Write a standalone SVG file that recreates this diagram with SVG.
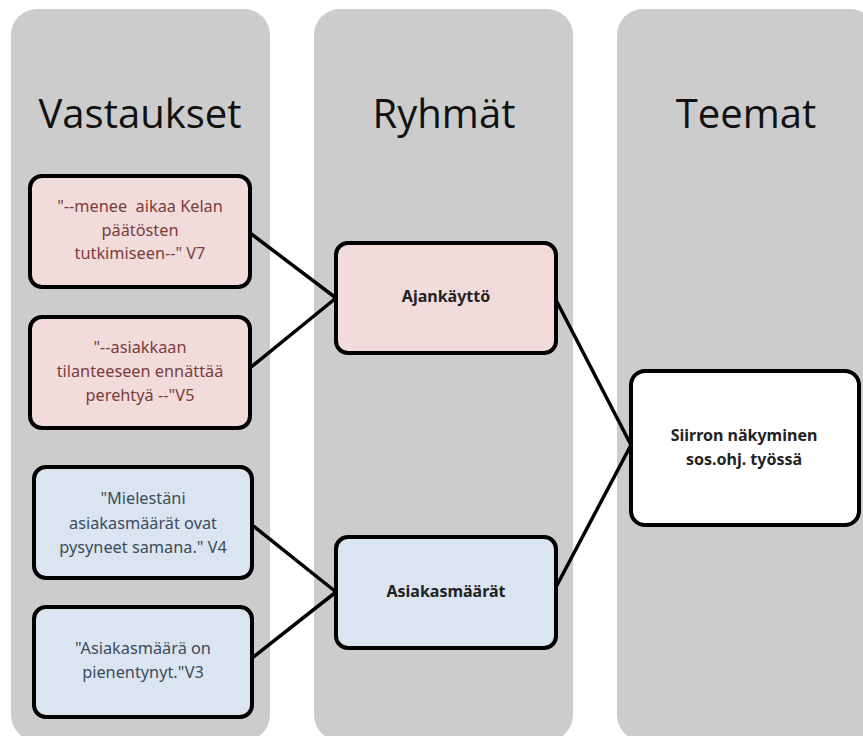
<svg xmlns="http://www.w3.org/2000/svg" width="863" height="736" viewBox="0 0 863 736">
<style>
.col{fill:#cccccc}
.title{font-family:"Open Sans","Noto Sans",sans-serif;font-size:40px;fill:#111;text-anchor:middle}
.box{stroke:#000;stroke-width:4}
.pink{fill:#f2dcdb}
.blue{fill:#dbe5f1}
.white{fill:#ffffff}
.q{font-family:"Noto Sans","Open Sans",sans-serif;font-size:16.3px;text-anchor:middle;white-space:pre}
.qp{fill:#7b3b3b}
.qb{fill:#3c4b5c}
.b{font-family:"Noto Sans","Open Sans",sans-serif;font-size:16px;font-weight:bold;fill:#222;text-anchor:middle}
.conn line{stroke:#000;stroke-width:3.5;stroke-linecap:round}
</style>
<rect width="863" height="736" fill="#ffffff"/>
<g id="col-vastaukset"><rect class="col" x="11" y="9" width="259" height="732" rx="26"/><text class="title" x="140" y="128">Vastaukset</text></g>
<g id="col-ryhmat"><rect class="col" x="314" y="9" width="259" height="732" rx="26"/><text class="title" x="444" y="128">Ryhmät</text></g>
<g id="col-teemat"><rect class="col" x="617" y="9" width="259" height="732" rx="26"/><text class="title" x="746" y="128">Teemat</text></g>
<g class="conn" id="connectors">
<line x1="250" y1="233" x2="336" y2="298"/>
<line x1="250" y1="368" x2="336" y2="298"/>
<line x1="252" y1="525" x2="336" y2="592"/>
<line x1="252" y1="658" x2="336" y2="592"/>
<line x1="556" y1="300" x2="631" y2="445"/>
<line x1="556" y1="587" x2="631" y2="445"/>
</g>
<g id="v7"><rect class="box pink" x="30" y="176" width="220" height="111" rx="12"/>
<text class="q qp" x="140" y="212">"--menee  aikaa Kelan</text>
<text class="q qp" x="140" y="236">päätösten</text>
<text class="q qp" x="140" y="259">tutkimiseen--" V7</text></g>
<g id="v5"><rect class="box pink" x="30" y="317" width="220" height="111" rx="12"/>
<text class="q qp" x="140" y="353">"--asiakkaan</text>
<text class="q qp" x="140" y="377">tilanteeseen ennättää</text>
<text class="q qp" x="140" y="401">perehtyä --"V5</text></g>
<g id="v4"><rect class="box blue" x="34" y="467" width="218" height="111" rx="12"/>
<text class="q qb" x="143" y="504">"Mielestäni</text>
<text class="q qb" x="143" y="529">asiakasmäärät ovat</text>
<text class="q qb" x="143" y="553">pysyneet samana." V4</text></g>
<g id="v3"><rect class="box blue" x="34" y="607" width="218" height="110" rx="12"/>
<text class="q qb" x="143" y="654">"Asiakasmäärä on</text>
<text class="q qb" x="143" y="678">pienentynyt."V3</text></g>
<g id="ajankaytto"><rect class="box pink" x="336" y="243" width="220" height="110" rx="12"/>
<text class="b" x="446" y="302">Ajankäyttö</text></g>
<g id="asiakasmaarat"><rect class="box blue" x="336" y="537" width="220" height="111" rx="12"/>
<text class="b" x="446" y="597">Asiakasmäärät</text></g>
<g id="siirron"><rect class="box white" x="631" y="371" width="228" height="154" rx="14"/>
<text class="b" x="744" y="441">Siirron näkyminen</text>
<text class="b" x="744" y="465">sos.ohj. työssä</text></g>
</svg>
